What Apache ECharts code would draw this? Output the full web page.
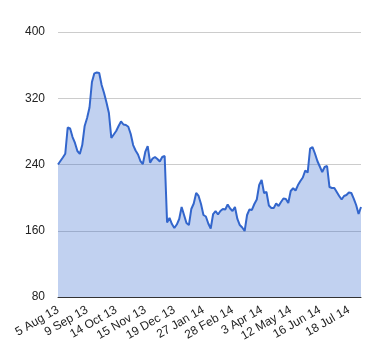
<!DOCTYPE html>
<html>
<head>
<meta charset="utf-8">
<script src="https://cdn.jsdelivr.net/npm/echarts@6/dist/echarts.min.js"></script>
<style>html,body{margin:0;padding:0;background:#fff}#c{width:380px;height:360px}</style>
</head>
<body>
<div id="c"></div>
<script>
var tickLabels = ['5 Aug 13','9 Sep 13','14 Oct 13','15 Nov 13','19 Dec 13','27 Jan 14','28 Feb 14','3 Apr 14','12 May 14','16 Jun 14','18 Jul 14'];
var labelStep = 12;
var values = [
240.0,244.2,248.4,253.0,284.7,283.5,273.2,266.0,256.3,252.7,
263.5,286.5,296.1,308.8,339.6,350.1,351.1,350.5,336.0,326.3,
314.9,302.2,272.0,276.2,280.4,286.5,292.0,288.3,287.7,285.6,
276.8,263.5,256.9,252.1,244.2,240.6,255.1,262.3,242.2,247.2,
249.1,246.6,243.6,249.1,250.3,170.0,175.4,168.1,163.3,167.5,
174.2,188.7,179.0,169.4,166.9,186.3,192.9,205.6,202.0,192.3,
179.0,177.2,168.8,162.7,180.2,183.8,179.6,183.8,186.3,185.7,
191.7,186.9,183.8,188.7,174.2,166.9,163.9,159.7,179.0,185.7,
185.1,192.3,197.7,215.2,221.3,205.6,206.8,190.5,187.5,187.5,
192.9,189.9,194.7,198.9,198.3,193.5,208.0,211.3,208.6,215.2,
220.1,224.3,232.8,230.3,259.3,261.1,253.3,244.2,237.6,230.9,
237.0,238.2,212.8,211.6,211.6,206.8,202.0,197.7,202.0,203.2,
206.2,205.6,198.9,191.1,180.2,188.7
];
var yTicks = [80, 160, 240, 320, 400];

var categories = values.map(function(v, i){ return i; });

var chart = echarts.init(document.getElementById('c'), null, {renderer:'canvas'});
chart.setOption({
  animation: false,
  backgroundColor: '#ffffff',
  grid: {left: 58, right: 19, top: 32, bottom: 63, containLabel: false},
  xAxis: {
    type: 'category',
    data: categories,
    boundaryGap: false,
    axisLine: {show: true, lineStyle: {color: '#333333', width: 1}},
    axisTick: {show: false},
    splitLine: {show: false},
    axisLabel: {
      interval: labelStep - 1,
      rotate: 30,
      margin: 12,
      fontFamily: 'Liberation Sans, Arial, sans-serif',
      fontSize: 12,
      color: '#222222',
      formatter: function(v, idx){ return tickLabels[Math.round(idx / labelStep)] || ''; }
    }
  },
  yAxis: {
    type: 'value',
    min: yTicks[0],
    max: yTicks[yTicks.length - 1],
    interval: 80,
    axisLine: {show: false},
    axisTick: {show: false},
    splitLine: {lineStyle: {color: '#cccccc', width: 1}},
    axisLabel: {
      margin: 13,
      fontFamily: 'Liberation Sans, Arial, sans-serif',
      fontSize: 12,
      color: '#222222'
    }
  },
  series: [{
    type: 'line',
    data: values,
    showSymbol: false,
    symbol: 'none',
    lineStyle: {color: '#3366cc', width: 2},
    itemStyle: {color: '#3366cc'},
    areaStyle: {color: '#3366cc', opacity: 0.3, origin: 'start'}
  }]
});
</script>
</body>
</html>
